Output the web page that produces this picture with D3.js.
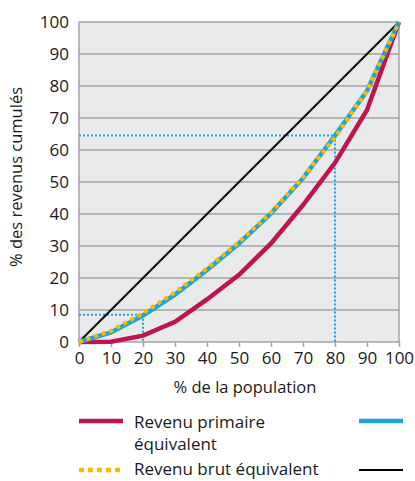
<!DOCTYPE html>
<html>
<head>
<meta charset="utf-8">
<script src="https://cdn.jsdelivr.net/npm/d3@7"></script>
<style>
  body { margin: 0; background: #fff; }
  text { font-family: "Open Sans", "DejaVu Sans", sans-serif; fill: #1a1a1a; }
</style>
</head>
<body>
<svg id="chart" width="415" height="481"></svg>
<script>
// parts de population (deciles)
const population = [0, 10, 20, 30, 40, 50, 60, 70, 80, 90, 100];
const primaire = [0, 0.1, 2, 6.3, 13.3, 21, 30.8, 42.8, 56, 72.5, 100];
const disponible = [0, 3, 8.3, 14.8, 22.5, 30.8, 40.2, 51.2, 64.5, 78.5, 100];
const brut = [0, 3.5, 9, 15.5, 23, 31.2, 40.5, 51.5, 64, 78.5, 100];
const egalite = [0, 100];
const ticks = [0, 10, 20, 30, 40, 50, 60, 70, 80, 90, 100];
// repères pointillés : (x, y)
const reperes = [[20, 8.5], [80, 64.5]];

// la colonne de droite de la légende est coupée dans l'original : seules les lignes restent visibles
const legendItems = [
  { label: ["Revenu primaire", "équivalent"], color: "#c0144f", dash: null, w: 4.5, col: 0, row: 0 },
  { label: ["Revenu brut équivalent"], color: "#fbb900", dash: "5,4", w: 4.5, col: 0, row: 1 },
  { label: [], color: "#1ea5d6", dash: null, w: 4.5, col: 1, row: 0 },
  { label: [], color: "#000", dash: null, w: 2, col: 1, row: 1 }
];

const svg = d3.select("#chart");
const x = d3.scaleLinear().domain([0, 100]).range([79, 399]);
const y = d3.scaleLinear().domain([0, 100]).range([342, 22]);

// fond
svg.append("rect")
  .attr("x", x(0)).attr("y", y(100))
  .attr("width", x(100) - x(0)).attr("height", y(0) - y(100))
  .attr("fill", "#e9eaec");

// grille horizontale
svg.selectAll(".grid").data(ticks).enter().append("line")
  .attr("x1", x(0)).attr("x2", x(100))
  .attr("y1", d => y(d)).attr("y2", d => y(d))
  .attr("stroke", "#a3a3a3").attr("stroke-width", 1.5);

// bords gauche et droit
svg.selectAll(".side").data([0, 100]).enter().append("line")
  .attr("x1", d => x(d)).attr("x2", d => x(d))
  .attr("y1", y(0)).attr("y2", y(100))
  .attr("stroke", "#a3a3a3").attr("stroke-width", 1.5);

// axe x
const xAxis = svg.append("g")
  .attr("transform", `translate(0,${y(0)})`)
  .call(d3.axisBottom(x).tickValues(ticks).tickSize(5).tickPadding(5));
xAxis.select(".domain").remove();
xAxis.selectAll(".tick line").attr("stroke", "#a3a3a3").attr("stroke-width", 1.5);
xAxis.selectAll("text").attr("font-size", 17).attr("fill", "#1a1a1a");

// axe y
const yAxis = svg.append("g")
  .attr("transform", `translate(${x(0)},0)`)
  .call(d3.axisLeft(y).tickValues(ticks).tickSize(0).tickPadding(10));
yAxis.select(".domain").remove();
yAxis.selectAll("text").attr("font-size", 17).attr("fill", "#1a1a1a");

svg.append("text")
  .attr("transform", `translate(22,${(y(0) + y(100)) / 2 - 5}) rotate(-90)`)
  .attr("text-anchor", "middle").attr("font-size", 16.5)
  .text("% des revenus cumulés");

svg.append("text")
  .attr("x", 245).attr("y", 393)
  .attr("text-anchor", "middle").attr("font-size", 16.5)
  .text("% de la population");

// repères
reperes.forEach(r => {
  svg.append("path")
    .attr("d", d3.line()([[x(0), y(r[1])], [x(r[0]), y(r[1])], [x(r[0]), y(0)]]))
    .attr("fill", "none").attr("stroke", "#1ea5d6")
    .attr("stroke-width", 2).attr("stroke-dasharray", "2,2");
});

const line = d3.line().x(d => x(d[0])).y(d => y(d[1]));

// égalité
svg.append("path")
  .attr("d", line([[0, egalite[0]], [100, egalite[1]]]))
  .attr("fill", "none").attr("stroke", "#000").attr("stroke-width", 2);

svg.append("path")
  .attr("d", line(population.map((p, i) => [p, primaire[i]])))
  .attr("fill", "none").attr("stroke", "#c0144f").attr("stroke-width", 4.5);

svg.append("path")
  .attr("d", line(population.map((p, i) => [p, disponible[i]])))
  .attr("fill", "none").attr("stroke", "#1ea5d6").attr("stroke-width", 4.5);

svg.append("path")
  .attr("d", line(population.map((p, i) => [p, brut[i]])))
  .attr("fill", "none").attr("stroke", "#fbb900").attr("stroke-width", 4)
  .attr("stroke-dasharray", "4,4");

// légende
const colX = [79, 359];
const rowY = [421, 470];
legendItems.forEach(it => {
  const g = svg.append("g");
  g.append("line")
    .attr("x1", colX[it.col]).attr("x2", colX[it.col] + 44)
    .attr("y1", rowY[it.row]).attr("y2", rowY[it.row])
    .attr("stroke", it.color).attr("stroke-width", it.w)
    .attr("stroke-dasharray", it.dash);
  it.label.forEach((t, k) => {
    g.append("text")
      .attr("x", colX[it.col] + 55).attr("y", rowY[it.row] + (it.row ? 5 : 7) + k * 22)
      .attr("font-size", 17).text(t);
  });
});
</script>
</body>
</html>
